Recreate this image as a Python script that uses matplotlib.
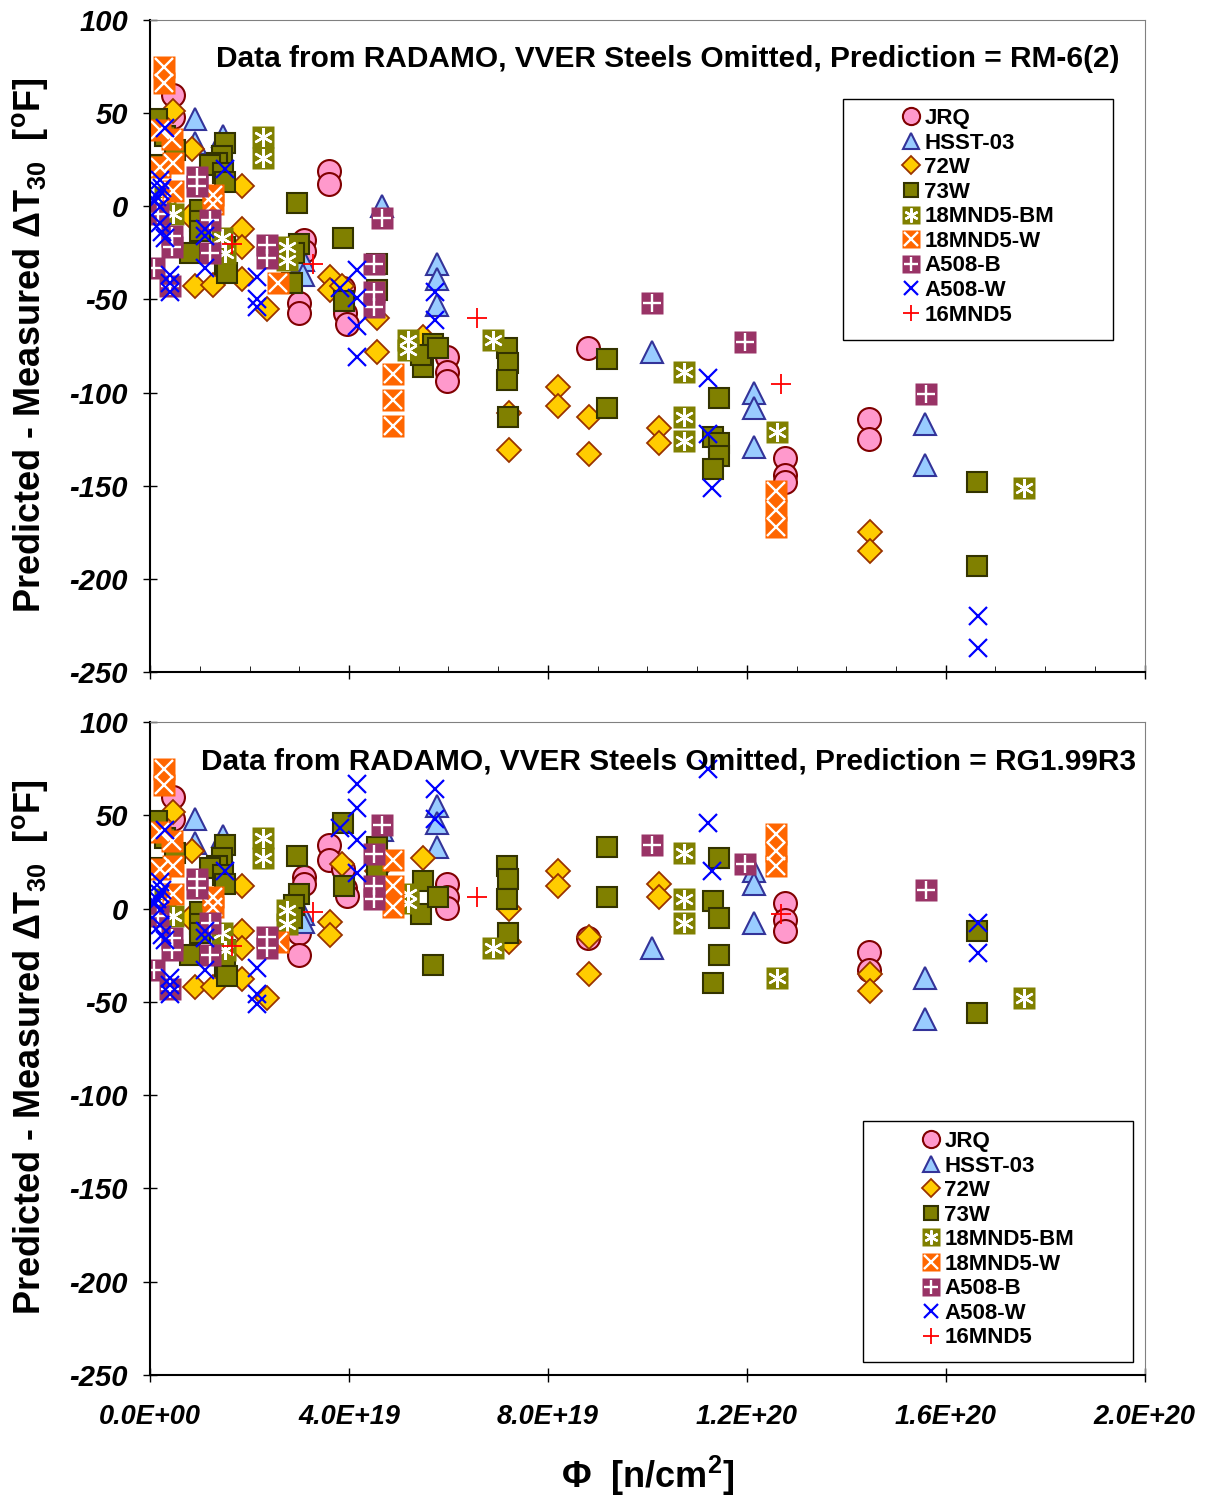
import numpy as np
import matplotlib
matplotlib.use('Agg')
import matplotlib.pyplot as plt
from matplotlib.patches import Rectangle

plt.rcParams['font.family'] = ['Liberation Sans', 'DejaVu Sans']
plt.rcParams['font.weight'] = 'bold'
plt.rcParams['mathtext.default'] = 'regular'

# fluence in units of 1E19 n/cm2, residuals in degF
# top = RM-6(2), bottom = RG1.99R3
jrq_x = [0.46, 0.46, 3.6, 3.6, 3.1, 3.1, 3.0, 3.0, 3.88, 3.92, 3.96, 5.97, 5.97, 5.97, 8.8, 12.76, 12.76, 12.76, 14.45, 14.45]
jrq_top = [60, 48, 19, 12, -18, -24, -52, -57, -44, -57, -63, -81, -89, -94, -76, -135, -144, -148, -114, -125]
jrq_bot = [60, 48, 34, 26, 17, 13, -13, -25, 21, 11, 7, 13, 6, 0.5, -16, 3, -6, -12, -23, -33]

hsst_x = [0.9, 0.9, 1.47, 3.08, 3.08, 4.67, 5.77, 5.77, 5.77, 10.09, 12.14, 12.14, 12.14, 15.58, 15.58]
hsst_top = [47, 34, 38, -29, -37, 0, -31, -39, -53, -78, -100, -108, -129, -117, -139]
hsst_bot = [48, 35, 39, -3, -7, 42, 55, 46, 33, -21, 20, 13, -7.5, -37, -59]

w72_x = [0.47, 0.85, 0.8, 1.85, 1.85, 1.85, 0.9, 1.27, 1.85, 2.35, 3.62, 3.62, 3.85, 4.56, 4.56, 5.49,
         7.22, 7.22, 8.2, 8.2, 8.82, 8.82, 10.23, 10.23, 14.47, 14.47]
w72_top = [51, 31, -5, 11, -12, -22, -43, -42, -39, -55, -38, -45, -43, -60, -78, -70,
           -111, -131, -97, -107, -113, -133, -119, -127, -175, -185]
w72_bot = [52, 31, -5, 12, -12, -21, -42, -42, -38, -48, -7, -14, 24, 20, 13, 27,
           0, -18, 20, 12, -15, -35, 13, 6, -35, -44]

w73_x = [0.14, 0.3, 0.5, 0.2, 1.5, 1.45, 1.35, 1.2, 1.47, 1.5, 1.0, 1.0, 1.0, 0.8, 1.5, 1.5, 1.55,
         2.95, 3.88, 3.0, 2.9, 2.85, 3.9, 4.56, 4.56, 5.69, 5.49, 5.45, 5.8, 7.17, 7.2, 7.17, 7.2,
         9.19, 9.19, 11.44, 11.33, 11.44, 11.44, 11.33, 16.62, 16.62]
w73_top = [47, 38, 30, 22, 34, 27, 23, 22, 18, 13, -2, -8, -13, -25, -22, -31, -36,
           2, -17, -20, -25, -41, -51, -31, -45, -74, -86, -80, -76, -76, -84, -93, -113,
           -82, -108, -103, -124, -127, -134, -141, -148, -193]
w73_bot = [47, 38, 30, 22, 34, 27, 23, 22, 18, 13, -2, -8, -13, -25, -22, -31, -36,
           28, 46, 8, 2, -5, 12, 33, 20, -30, 15, -3, 6, 23, 16, 5, -13,
           33, 6, 27, 4, -5, -25, -40, -12, -56]

bm_x = [0.3, 0.46, 1.45, 1.5, 2.27, 2.27, 2.75, 2.75, 5.19, 5.19, 6.9, 10.73, 10.73, 10.73, 12.6, 17.57]
bm_top = [5, -4, -17, -25, 37, 26, -22, -29, -72, -77, -72, -89, -113, -126, -121, -151]
bm_bot = [5, -4, -13, -22, 38, 27, -1, -8, 8, 3, -21, 30, 5, -7.5, -37, -48]

mw_x = [0.28, 0.28, 0.2, 0.45, 0.47, 0.2, 0.47, 1.27, 1.27, 2.57, 4.89, 4.89, 4.89, 12.58, 12.58, 12.58]
mw_top = [75, 66, 41, 36, 23, 21, 8, 6, 1, -41, -90, -104, -118, -153, -163, -172]
mw_bot = [75, 66, 41, 36, 23, 21, 8, 6, 1, -18, 26, 12, 1, 40, 31, 23]

ab_x = [0.94, 0.94, 1.2, 1.2, 0.17, 0.45, 0.45, 0.07, 0.4, 2.35, 2.35, 4.67, 4.5, 4.5, 4.5, 10.09, 11.96, 15.6]
ab_top = [16, 11, -7.5, -25, -4, -16, -22, -33, -43, -21, -28, -6, -31, -46, -54, -52, -73, -101]
ab_bot = [16, 11, -7.5, -25, -4, -16, -22, -33, -43, -15, -21, 45, 29, 12, 5, 34, 24, 10]

aw_x = [0.3, 0.2, 0.25, 0.2, 0.15, 0.1, 0.2, 0.2, 0.25, 0.3, 0.4, 0.4, 0.4, 1.1, 1.1, 1.1, 1.5,
        2.15, 2.15, 2.15, 4.16, 3.82, 4.16, 4.16, 4.16, 5.73, 5.73, 11.22, 11.22, 11.3, 16.65, 16.65]
aw_top = [42, 14, 10, 8, 5, 3, -0.5, -9, -14, -17, -37, -41, -46, -12, -16, -33, 20,
          -38, -50, -54, -34, -44, -49, -64, -81, -46, -61, -92, -122, -151, -220, -237]
aw_bot = [42, 14, 10, 8, 5, 3, -0.5, -9, -14, -17, -37, -41, -46, -12, -16, -33, 20,
          -32, -46, -51, 67, 43, 54, 37, 19, 64, 48, 75, 46, 20, -7.5, -24]

mn_x = [1.65, 3.28, 6.57, 12.68]
mn_top = [-20, -31, -60, -95.5]
mn_bot = [-20, -2, 6, -2.7]

names = ['JRQ', 'HSST-03', '72W', '73W', '18MND5-BM', '18MND5-W', 'A508-B', 'A508-W', '16MND5']
xs = [jrq_x, hsst_x, w72_x, w73_x, bm_x, mw_x, ab_x, aw_x, mn_x]
tops = [jrq_top, hsst_top, w72_top, w73_top, bm_top, mw_top, ab_top, aw_top, mn_top]
bots = [jrq_bot, hsst_bot, w72_bot, w73_bot, bm_bot, mw_bot, ab_bot, aw_bot, mn_bot]

xtick_vals = [0, 4e19, 8e19, 1.2e20, 1.6e20, 2.0e20]
xtick_labels = ['0.0E+00', '4.0E+19', '8.0E+19', '1.2E+20', '1.6E+20', '2.0E+20']
ytick_vals = [100, 50, 0, -50, -100, -150, -200, -250]

styles = [
    dict(marker='o', ms=16.5, mfc='#FF99CC', mec='#800000', mew=1.5),
    dict(marker='^', ms=15.5, mfc='#99CCFF', mec='#333399', mew=1.5),
    dict(marker='D', ms=12.5, mfc='#FFCC00', mec='#993300', mew=1.3),
    dict(marker='s', ms=14, mfc='#808000', mec='#333300', mew=1.5),
    dict(marker='s', ms=16.5, mfc='#808000', mec='none'),
    dict(marker='s', ms=16.5, mfc='#FF6600', mec='none'),
    dict(marker='s', ms=16.5, mfc='#993366', mec='none'),
    dict(marker='x', ms=13, mfc='none', mec='#0000FF', mew=1.6),
    dict(marker='+', ms=15, mfc='none', mec='#FF0000', mew=1.3),
]
overlays = [None, None, None, None,
            dict(marker=(6, 2, 0), ms=13.5, mec='white', mew=1.7),
            dict(marker='x', ms=12.5, mec='white', mew=1.7),
            dict(marker='+', ms=13.5, mec='white', mew=1.7),
            None, None]

fig = plt.figure(figsize=(12.1, 14.98), dpi=100)
ax1 = fig.add_axes([0.124, 0.5514, 0.822, 0.4352])
ax2 = fig.add_axes([0.124, 0.0821, 0.822, 0.4359])


def draw(ax, yvals, title, leg_anchor, box):
    handles = []
    for x, y, st, ov in zip(xs, yvals, styles, overlays):
        xa = np.array(x) * 1e19
        h = ax.plot(xa, y, ls='none', **st)[0]
        if ov is not None:
            h2 = ax.plot(xa, y, ls='none', **ov)[0]
            handles.append((h, h2))
        else:
            handles.append(h)
    ax.set_xlim(0, 2e20)
    ax.set_ylim(-250, 100)
    ax.set_xticks(xtick_vals)
    ax.set_yticks(ytick_vals)
    ax.set_yticklabels([str(v) for v in ytick_vals], fontsize=21, style='italic', weight='bold')
    ax.tick_params(axis='y', direction='inout', length=10, width=1, pad=11)
    ax.tick_params(axis='x', direction='inout', length=10, width=1, pad=16)
    for s in ['top', 'right']:
        ax.spines[s].set_color('#808080')
    for s in ['left', 'bottom']:
        ax.spines[s].set_linewidth(1.5)
    ax.text(0.521, 0.94, title, transform=ax.transAxes, ha='center', va='center',
            fontsize=21.5, weight='bold')
    ax.add_patch(Rectangle(box[:2], box[2], box[3], transform=ax.transAxes,
                           facecolor='white', edgecolor='black', lw=1, zorder=4))
    ax.legend(handles, names, loc='upper left', bbox_to_anchor=leg_anchor, frameon=False,
              fontsize=16, markerscale=0.75, handlelength=1.0, handletextpad=0.1,
              labelspacing=0.16, borderpad=0, borderaxespad=0)


draw(ax1, tops, 'Data from RADAMO, VVER Steels Omitted, Prediction = RM-6(2)',
     (0.7538, 0.865), (0.6965, 0.509, 0.2715, 0.370))
ax1.set_xticks(np.arange(0, 2.01e20, 1e19), minor=True)
ax1.tick_params(axis='x', which='minor', direction='in', length=4)
ax1.set_xticklabels([])

draw(ax2, bots, 'Data from RADAMO, VVER Steels Omitted, Prediction = RG1.99R3',
     (0.7739, 0.3737), (0.7166, 0.0199, 0.2714, 0.369))
ax2.set_xticklabels(xtick_labels, fontsize=19.5, style='italic', weight='bold')

ylab = r'Predicted - Measured $\Delta$T$_{30}$  [$^{o}$F]'
fig.text(30 / 1210, 1 - 345 / 1498, ylab, rotation=90, ha='center', va='center', fontsize=26, weight='bold')
fig.text(30 / 1210, 1 - 1047 / 1498, ylab, rotation=90, ha='center', va='center', fontsize=26, weight='bold')
fig.text(648 / 1210, 1 - 1476 / 1498, r'$\Phi$  [n/cm$^{2}$]', ha='center', va='center', fontsize=26, weight='bold')

fig.savefig('out.png', dpi=100)
